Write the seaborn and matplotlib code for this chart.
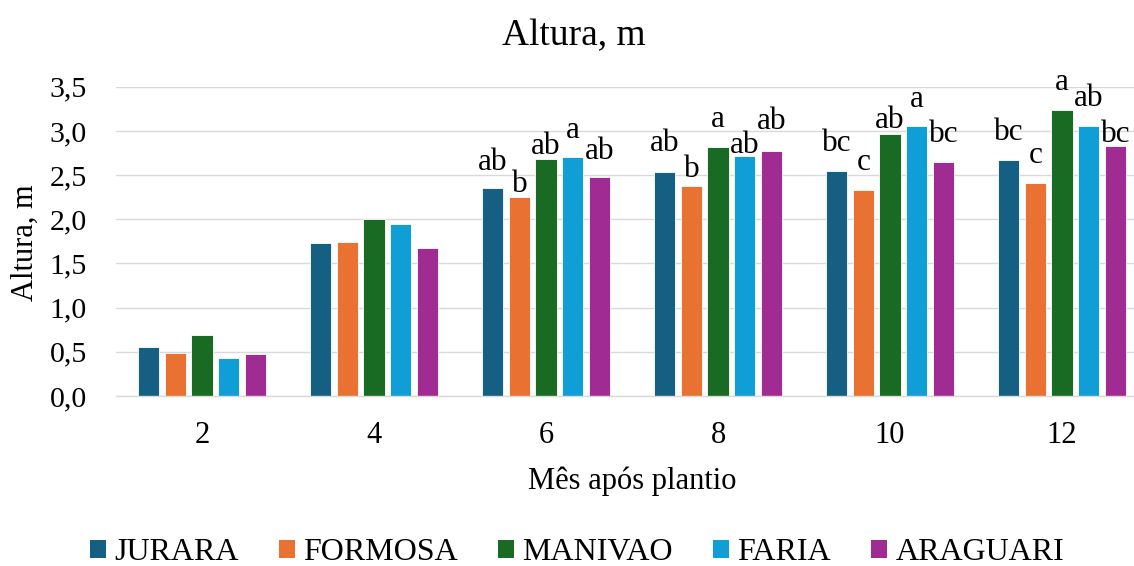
import matplotlib
matplotlib.use("Agg")
import matplotlib.pyplot as plt
from matplotlib.patches import Patch
from matplotlib.ticker import FuncFormatter
import pandas as pd
import seaborn as sns

# Months after planting (x categories) and cultivars (hue)
meses = ["2", "4", "6", "8", "10", "12"]
cultivares = ["JURARA", "FORMOSA", "MANIVAO", "FARIA", "ARAGUARI"]

# Plant height (m) per cultivar, one value per month
jurara = [0.56, 1.73, 2.35, 2.54, 2.55, 2.67]
formosa = [0.49, 1.74, 2.25, 2.38, 2.33, 2.41]
manivao = [0.69, 2.00, 2.68, 2.82, 2.96, 3.24]
faria = [0.43, 1.95, 2.70, 2.72, 3.05, 3.05]
araguari = [0.47, 1.68, 2.48, 2.77, 2.65, 2.83]

# Mean-comparison letters (empty = no letter shown)
letras_jurara = ["", "", "ab", "ab", "bc", "bc"]
letras_formosa = ["", "", "b", "b", "c", "c"]
letras_manivao = ["", "", "ab", "a", "ab", "a"]
letras_faria = ["", "", "a", "ab", "a", "ab"]
letras_araguari = ["", "", "ab", "ab", "bc", "bc"]

# Vertical gap (px) between bar top and letter baseline
desloc_jurara = [0, 0, 18.7, 20.3, 20, 20]
desloc_formosa = [0, 0, 5.3, 9, 20, 19.7]
desloc_manivao = [0, 0, 4.7, 20, 6, 19.3]
desloc_faria = [0, 0, 19, 2.6, 19.3, 20]
desloc_araguari = [0, 0, 18.3, 22, 20, 4]

cores = ["#156082", "#E97132", "#196B24", "#0F9ED5", "#A02B93"]

valores = [jurara, formosa, manivao, faria, araguari]
letras = [letras_jurara, letras_formosa, letras_manivao, letras_faria, letras_araguari]
deslocs = [desloc_jurara, desloc_formosa, desloc_manivao, desloc_faria, desloc_araguari]

df = pd.DataFrame(
    [(m, c, v) for c, serie in zip(cultivares, valores) for m, v in zip(meses, serie)],
    columns=["Mês", "Cultivar", "Altura"],
)

sns.set_style("white")
plt.rcParams["font.family"] = ["Liberation Serif", "DejaVu Serif"]
plt.rcParams["text.color"] = "black"
plt.rcParams["axes.labelcolor"] = "black"
plt.rcParams["xtick.color"] = "black"
plt.rcParams["ytick.color"] = "black"

DPI = 100
W, H = 1134, 566
fig = plt.figure(figsize=(W / DPI, H / DPI), dpi=DPI)
ax = fig.add_axes([116 / W, (H - 396) / H, 1032 / W, (396 - 86.7) / H])

sns.barplot(
    data=df, x="Mês", y="Altura", hue="Cultivar",
    order=meses, hue_order=cultivares, palette=cores, saturation=1,
    width=0.775, gap=0.21, edgecolor="white", linewidth=0.6,
    errorbar=None, legend=False, ax=ax,
)

ax.set_ylim(0, 3.5)
ax.set_yticks([i * 0.5 for i in range(8)])
ax.yaxis.set_major_formatter(FuncFormatter(lambda v, _: f"{v:.1f}".replace(".", ",")))
ax.set_axisbelow(True)
ax.yaxis.grid(True, color="#D9D9D9", linewidth=1.0)
ax.xaxis.grid(False)
for s in ["left", "right", "top"]:
    ax.spines[s].set_visible(False)
ax.spines["bottom"].set_color("#D9D9D9")
ax.spines["bottom"].set_linewidth(1.0)
ax.tick_params(axis="y", length=0, pad=21, labelsize=21.5, labelcolor="black")
ax.tick_params(axis="x", length=0, pad=18, labelsize=22, labelcolor="black")
ax.set_xlabel("")
ax.set_ylabel("")

# Letters above bars
for cont, lts, dls in zip(ax.containers, letras, deslocs):
    for bar, txt, d in zip(cont, lts, dls):
        if not txt:
            continue
        ax.annotate(
            txt,
            xy=(bar.get_x() + bar.get_width() / 2, bar.get_height()),
            xytext=(0, d * 72 / DPI), textcoords="offset points",
            ha="center", va="baseline", fontsize=22.5, color="black",
        )

fig.text(573.5 / W, 1 - 45 / H, "Altura, m", ha="center", va="baseline", fontsize=27)
fig.text(632 / W, 1 - 489 / H, "Mês após plantio", ha="center", va="baseline", fontsize=22)
fig.text(25 / W, 1 - 243 / H, "Altura, m", ha="center", va="center",
         rotation=90, fontsize=22)

handles = [Patch(facecolor=c, edgecolor="none") for c in cores]
fig.legend(
    handles, cultivares, loc="center", bbox_to_anchor=(577 / W, 1 - 553 / H),
    ncol=5, frameon=False, fontsize=23, handlelength=0.5, handleheight=0.5,
    handletextpad=0.26, columnspacing=1.26, borderpad=0, borderaxespad=0,
)

fig.savefig("out.png", dpi=DPI)
